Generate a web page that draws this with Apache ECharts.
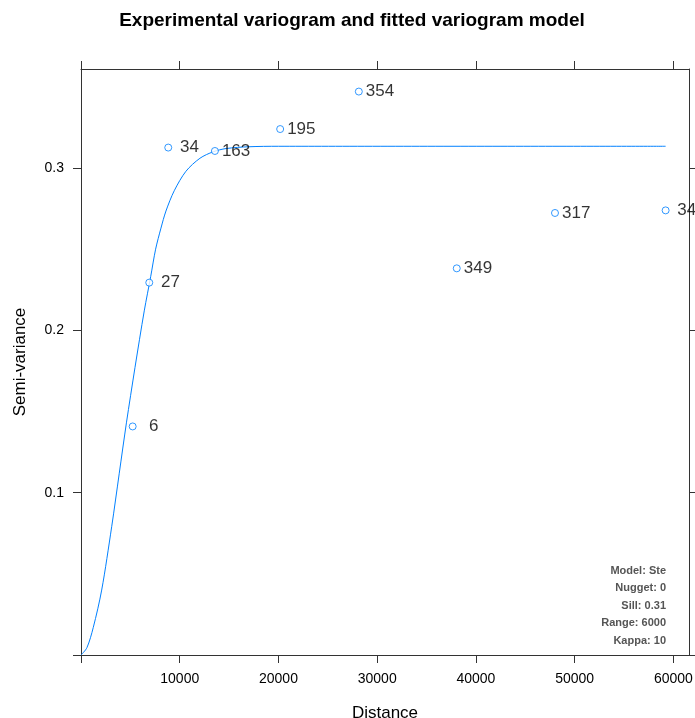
<!DOCTYPE html>
<html>
<head>
<meta charset="utf-8">
<script src="https://cdn.jsdelivr.net/npm/echarts@6/dist/echarts.min.js"></script>
<style>
html,body{margin:0;padding:0;background:#fff;}
#chart{width:695px;height:718px;}
</style>
</head>
<body>
<div id="chart"></div>
<script>
// Experimental variogram points
var distances = [5233, 6913, 8836, 13563, 20172, 28138, 38057, 48006, 59211];
var gammas    = [0.1408, 0.2294, 0.3126, 0.3105, 0.3240, 0.3471, 0.2382, 0.2723, 0.2739];
var npairs    = ["6", "27", "34", "163", "195", "354", "349", "317", "34"];

// Fitted model curve
var curveDist  = [0, 600, 1245, 2095, 3107, 3877, 4600, 5466, 6407, 7055, 7557, 8100, 8603, 9444, 10628, 12045, 13390, 14700, 17000, 20000, 59211];
var curveGamma = [0, 0.0045, 0.0170, 0.0400, 0.0790, 0.1120, 0.1430, 0.1770, 0.2120, 0.2330, 0.2500, 0.2630, 0.2735, 0.2860, 0.2980, 0.3060, 0.3100, 0.3120, 0.3131, 0.3134, 0.3134];

var xTicks = [0, 10000, 20000, 30000, 40000, 50000, 60000];
var xTickLabels = [10000, 20000, 30000, 40000, 50000, 60000];
var yTicks = [0, 0.1, 0.2, 0.3];
var yTickLabels = [0.1, 0.2, 0.3];

var modelInfo = ["Model: Ste", "Nugget: 0", "Sill: 0.31", "Range: 6000", "Kappa: 10"];

var xMax = 61579, yMax = 0.361;
var FONT = "'Liberation Sans', Arial, Helvetica, sans-serif";
var axisColor = '#333';
var blue = '#0080ff';

var chart = echarts.init(document.getElementById('chart'));

function axisBase(pos, show, isX) {
  return {
    type: 'value',
    position: pos,
    min: 0,
    max: isX ? xMax : yMax,
    splitLine: {show: false},
    axisLine: {show: true, onZero: false, lineStyle: {color: axisColor, width: 1}},
    axisTick: {show: true, inside: false, length: 8, lineStyle: {color: axisColor, width: 1},
               customValues: isX ? xTicks : yTicks},
    axisLabel: {show: show, color: '#000', fontSize: 14, fontFamily: FONT,
                margin: 17,
                formatter: function (v) { return String(v); },
                customValues: isX ? xTickLabels : yTickLabels}
  };
}

var xb = axisBase('bottom', true, true);
xb.name = 'Distance';
xb.nameLocation = 'middle';
xb.nameGap = 50;
xb.nameTextStyle = {color: '#000', fontSize: 17, fontFamily: FONT};
var xt = axisBase('top', false, true);
var yl = axisBase('left', true, false);
yl.name = 'Semi-variance';
yl.nameLocation = 'middle';
yl.nameGap = 52;
yl.nameTextStyle = {color: '#000', fontSize: 17, fontFamily: FONT};
var yr = axisBase('right', false, false);

var pts = distances.map(function (d, i) {
  var s = npairs[i];
  while (s.length < 3) s = ' ' + s;
  return {value: [d, gammas[i]], lbl: s};
});

var graphics = modelInfo.map(function (t, i) {
  return {
    type: 'text', right: 29, top: 565 + i * 17.5,
    style: {text: t, fill: '#555', font: 'bold 11px ' + FONT, textAlign: 'right'}
  };
});

chart.setOption({
  animation: false,
  backgroundColor: '#fff',
  title: {
    text: 'Experimental variogram and fitted variogram model',
    left: 347, top: 6, textAlign: 'center',
    textStyle: {fontSize: 19, fontWeight: 'bold', color: '#000', fontFamily: FONT}
  },
  grid: {left: 81, top: 69, right: 6, bottom: 63, containLabel: false, outerBoundsMode: 'none'},
  xAxis: [xb, xt],
  yAxis: [yl, yr],
  graphic: graphics,
  series: [
    {
      type: 'line',
      xAxisIndex: 0, yAxisIndex: 0,
      data: curveDist.map(function (d, i) { return [d, curveGamma[i]]; }),
      smooth: 0.3,
      showSymbol: false,
      lineStyle: {color: blue, width: 1},
      z: 2
    },
    {
      type: 'scatter',
      xAxisIndex: 0, yAxisIndex: 0,
      data: pts,
      symbol: 'circle',
      symbolSize: 7,
      itemStyle: {color: '#fff', borderColor: blue, borderWidth: 1},
      label: {
        show: true, position: 'right', distance: 3,
        color: '#000', fontSize: 17, fontFamily: FONT,
        formatter: function (p) { return p.data.lbl; }
      },
      z: 3
    }
  ]
});
</script>
</body>
</html>
